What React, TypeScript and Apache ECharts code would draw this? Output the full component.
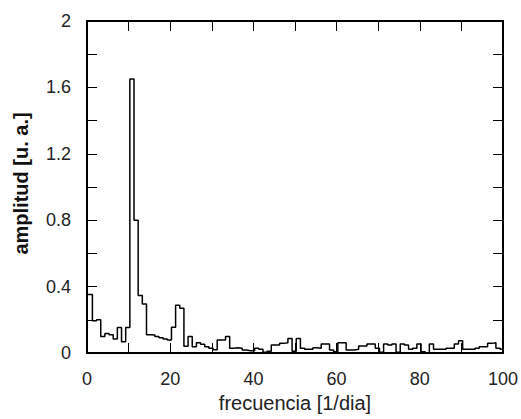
import React, { useEffect, useRef } from "react";
import * as echarts from "echarts";

// bin edges: first bin 0–1.3, then 1-wide bins offset by 0.3, last bin ends at 100
const firstEdge = 0;
const binOffset = 0.3;
const xMax = 100;

// amplitude of each bin
const amplitudes: number[] = [
  0.353, 0.195, 0.2, 0.1, 0.118, 0.11, 0.084, 0.153, 0.068, 0.153,
  1.65, 0.8, 0.347, 0.295, 0.11, 0.108, 0.1, 0.092, 0.084, 0.078,
  0.155, 0.288, 0.269, 0.04, 0.1, 0.038, 0.062, 0.052, 0.038, 0.028,
  0.02, 0.078, 0.078, 0.1, 0.028, 0.032, 0.028, 0.018, 0.014, 0.014,
  0.028, 0.022, 0.004, 0.01, 0.048, 0.048, 0.058, 0.062, 0.088, 0.01,
  0.088, 0.028, 0.022, 0.022, 0.032, 0.028, 0.054, 0.054, 0.018, 0.008,
  0.062, 0.062, 0.018, 0.018, 0.022, 0.042, 0.042, 0.054, 0.054, 0.028,
  0.004, 0.054, 0.048, 0.054, 0.004, 0.054, 0.048, 0.022, 0.028, 0.054,
  0.008, 0.002, 0.054, 0.022, 0.022, 0.022, 0.028, 0.028, 0.054, 0.074,
  0.022, 0.022, 0.022, 0.028, 0.038, 0.038, 0.058, 0.062, 0.028, 0.022,
];

const xTickLabels = ["0", "20", "40", "60", "80", "100"];
const yTickLabels = ["0", "0.4", "0.8", "1.2", "1.6", "2"];

const xTitle = "frecuencia [1/dia]";
const yTitle = "amplitud [u. a.]";

export default function App() {
  const ref = useRef<HTMLDivElement>(null);

  useEffect(() => {
    if (!ref.current) return;
    const chart = echarts.init(ref.current, undefined, { renderer: "svg" });

    const pts: [number, number][] = amplitudes.map((v, i) => [
      i === 0 ? firstEdge : i + binOffset,
      v,
    ]);
    pts.push([xMax, amplitudes[amplitudes.length - 1]]);

    const font = "'Liberation Sans', Arial, sans-serif";
    const lineStyle = { color: "#000", width: 2 };
    const tickStyle = { color: "#000", width: 1 };

    const xLabel = (v: number) => {
      const s = String(Math.round(v));
      return xTickLabels.includes(s) ? s : "";
    };
    const yLabel = (v: number) => {
      const s = String(Math.round(v * 10) / 10);
      return yTickLabels.includes(s) ? s : "";
    };

    chart.setOption({
      animation: false,
      backgroundColor: "#fff",
      grid: { left: 87, right: 18, top: 21, bottom: 66 },
      xAxis: [
        {
          type: "value",
          min: 0,
          max: 100,
          interval: 10,
          axisLine: { show: true, lineStyle },
          axisTick: { show: true, inside: true, length: 10, lineStyle: tickStyle },
          axisLabel: { formatter: xLabel, fontSize: 18, color: "#222", fontFamily: font, margin: 17 },
          splitLine: { show: false },
          name: xTitle,
          nameLocation: "middle",
          nameGap: 40,
          nameTextStyle: { fontSize: 20, color: "#222", fontFamily: font },
        },
        {
          type: "value",
          position: "top",
          min: 0,
          max: 100,
          interval: 10,
          axisLine: { show: true, onZero: false, lineStyle },
          axisTick: { show: true, inside: true, length: 10, lineStyle: tickStyle },
          axisLabel: { show: false },
          splitLine: { show: false },
        },
      ],
      yAxis: [
        {
          type: "value",
          min: 0,
          max: 2,
          interval: 0.2,
          axisLine: { show: true, lineStyle },
          axisTick: { show: true, inside: true, length: 10, lineStyle: tickStyle },
          axisLabel: { formatter: yLabel, fontSize: 18, color: "#222", fontFamily: font, margin: 16 },
          splitLine: { show: false },
          name: yTitle,
          nameLocation: "middle",
          nameGap: 56,
          nameTextStyle: { fontSize: 20, fontWeight: "bold", color: "#111", fontFamily: font, padding: [0, 0, 0, 7] },
        },
        {
          type: "value",
          position: "right",
          min: 0,
          max: 2,
          interval: 0.2,
          axisLine: { show: true, onZero: false, lineStyle },
          axisTick: { show: true, inside: true, length: 10, lineStyle: tickStyle },
          axisLabel: { show: false },
          splitLine: { show: false },
        },
      ],
      series: [
        {
          type: "line",
          step: "end",
          data: pts,
          symbol: "none",
          lineStyle: { color: "#000", width: 1.5 },
          xAxisIndex: 0,
          yAxisIndex: 0,
        },
      ],
    });

    return () => chart.dispose();
  }, []);

  return (
    <div
      ref={ref}
      style={{ position: "fixed", left: 0, top: 0, width: 521, height: 419 }}
    />
  );
}
